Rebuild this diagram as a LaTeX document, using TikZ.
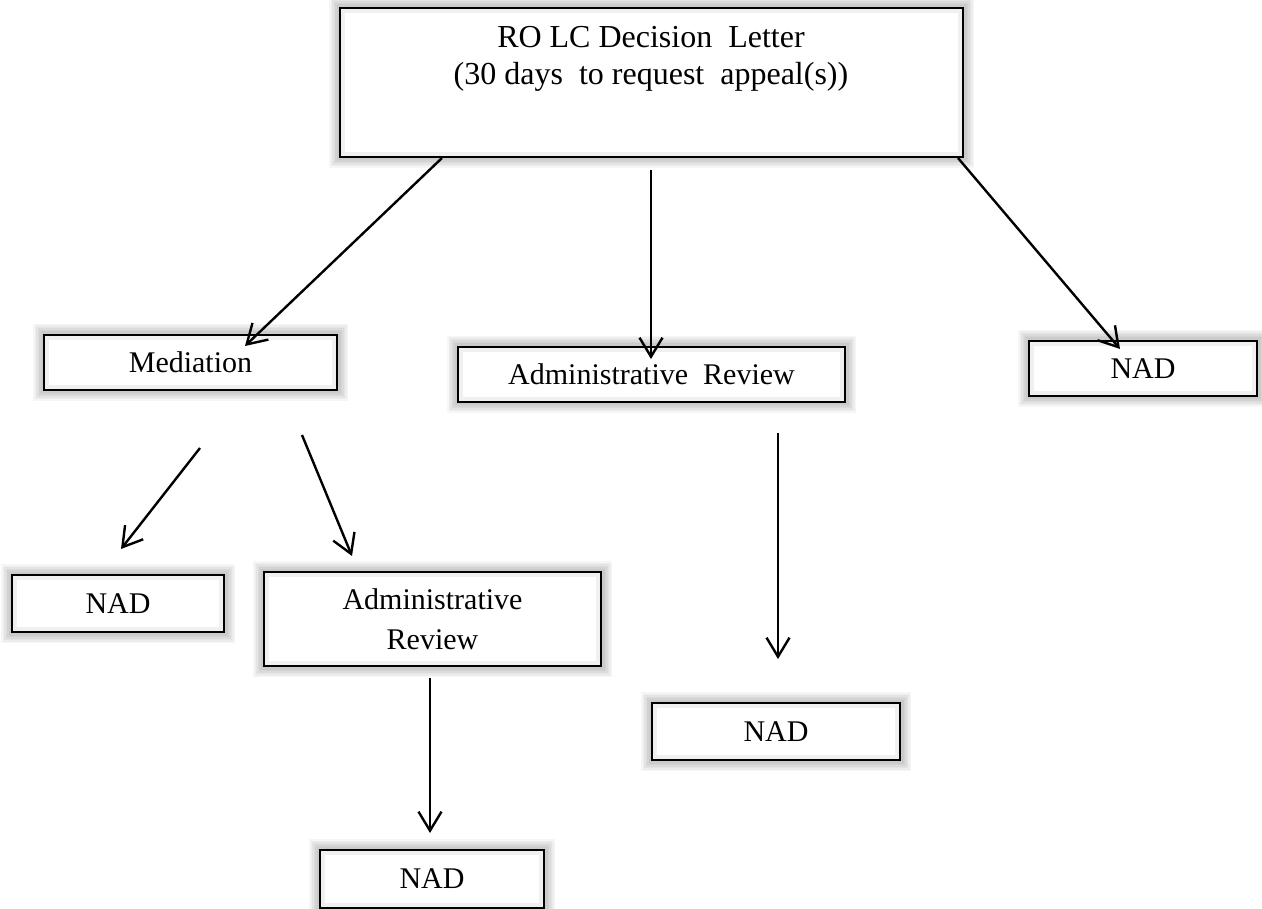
\documentclass[tikz,border=0pt]{standalone}
\usepackage{fontspec}
\setmainfont{Liberation Serif}
\usetikzlibrary{arrows.meta}
\pgfdeclarelayer{bg}
\pgfdeclarelayer{glow}
\pgfsetlayers{bg,glow,main}
\tikzset{
  box/.style={draw=black, line width=2pt, fill=white, inner sep=0pt, font=\fontsize{30}{34}\selectfont},
  arr/.style={line width=2.4pt, -{Straight Barb[length=19pt,width=23pt,line width=2.4pt]}},
}
\begin{document}
\begin{tikzpicture}[x=1pt,y=-1pt]
\begin{pgfonlayer}{bg}
\fill[white] (0,0) rectangle (1262,909);
\end{pgfonlayer}
\useasboundingbox (0,0) rectangle (1262,909);
% boxes
\node[box, minimum width=623, minimum height=149] (top) at (651.5,82.5) {};
\node[inner sep=0pt, align=center, font=\fontsize{32}{37}\selectfont] (toptext) at (651,59) {RO LC Decision\ \ Letter\\(30 days\ \ to request\ \ appeal(s))};
\node[box, minimum width=293, minimum height=55] (med) at (190.5,362.5) {Mediation};
\node[box, minimum width=387, minimum height=55] (ar1) at (651.5,374.5) {Administrative\ \ Review};
\node[box, minimum width=228, minimum height=55] (nad1) at (1143,368.5) {NAD};
\node[box, minimum width=212, minimum height=57] (nad2) at (118,603.5) {NAD};
\node[box, minimum width=337, minimum height=94, align=center, font=\fontsize{30}{40}\selectfont] (ar2) at (432.5,619) {Administrative\\Review};
\node[box, minimum width=248, minimum height=57] (nad3) at (776,731.5) {NAD};
\node[box, minimum width=224, minimum height=58] (nad4) at (432,879) {NAD};
% glow
\begin{pgfonlayer}{glow}
\foreach \n in {top,med,ar1,nad1,nad2,ar2,nad3,nad4}{
  \foreach \d in {10,8.5,7,5.5,4,2.5}{
    \fill[black, opacity=0.035] ([shift={(-\d,-\d)}]\n.north west) rectangle ([shift={(\d,\d)}]\n.south east);
  }
}
\end{pgfonlayer}
% inner soft edge
\foreach \n in {top,med,ar1,nad1,nad2,ar2,nad3,nad4}{
  \draw[black!6, line width=4pt] ([shift={(4,4)}]\n.north west) rectangle ([shift={(-4,-4)}]\n.south east);
}
% arrow end points
\coordinate (a1s) at (442,158);  \coordinate (a1e) at (245,346);
\coordinate (a2s) at (651,170);  \coordinate (a2e) at (651,359);
\coordinate (a3s) at (958,158);  \coordinate (a3e) at (1120,349);
\coordinate (a4s) at (200,448);  \coordinate (a4e) at (121,549);
\coordinate (a5s) at (302,435);  \coordinate (a5e) at (352,556);
\coordinate (a6s) at (430,678);  \coordinate (a6e) at (430,833);
\coordinate (a7s) at (778,433);  \coordinate (a7e) at (778,659);
\draw[arr] (a1s) -- (a1e);
\draw[arr] (a2s) -- (a2e);
\draw[arr] (a3s) -- (a3e);
\draw[arr] (a4s) -- (a4e);
\draw[arr] (a5s) -- (a5e);
\draw[arr] (a6s) -- (a6e);
\draw[arr] (a7s) -- (a7e);
\end{tikzpicture}
\end{document}
